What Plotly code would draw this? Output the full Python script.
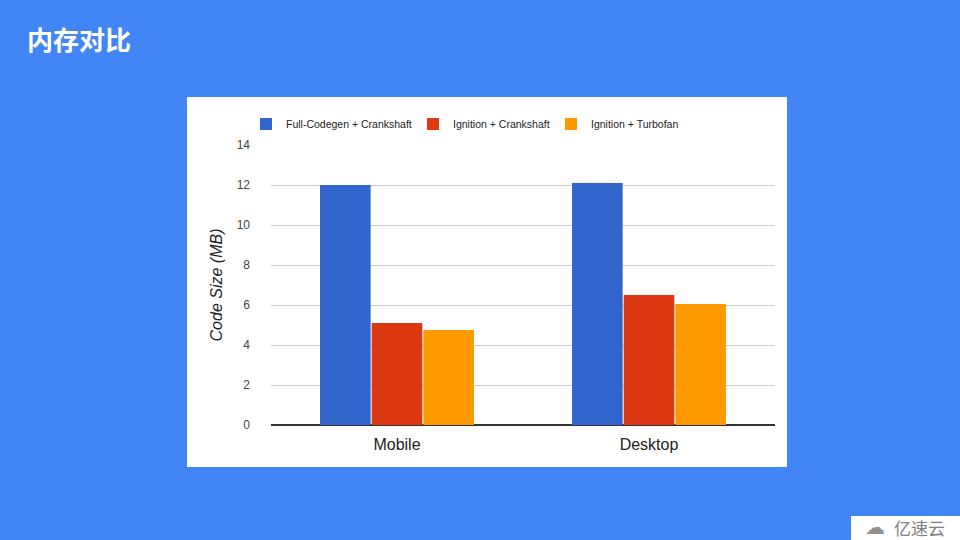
import plotly.graph_objects as go

categories = ["Mobile", "Desktop"]
series_names = ["Full-Codegen + Crankshaft", "Ignition + Crankshaft", "Ignition + Turbofan"]
full_codegen = [12.0, 12.1]
ignition_crankshaft = [5.1, 6.5]
ignition_turbofan = [4.75, 6.05]
series_values = [full_codegen, ignition_crankshaft, ignition_turbofan]
colors = ["#3366CC", "#DC3912", "#FF9900"]
y_ticks = [0, 2, 4, 6, 8, 10, 12, 14]

BG = "#4285F4"
FONT = "Arial, Liberation Sans, sans-serif"

# plot area in pixels
L, R, T, B = 271, 775, 145, 425
W, H = 960, 540
pw, ph = R - L, B - T

def px_x(x):
    return (x - L) / pw

def px_y(y):
    return (B - y) / ph

legend_ids = ["legend", "legend2", "legend3"]
legend_x_px = [246, 413, 551]

fig = go.Figure()
for name, vals, c, lid in zip(series_names, series_values, colors, legend_ids):
    fig.add_trace(go.Bar(name=name, x=categories, y=vals, legend=lid,
                         marker=dict(color=c, line=dict(width=0))))

legend_common = dict(
    orientation="h", yanchor="middle", xanchor="left",
    font=dict(size=10.5, color="#222222", family=FONT),
    bgcolor="rgba(0,0,0,0)", itemwidth=30,
)

layout_legends = {}
for lid, lx in zip(legend_ids, legend_x_px):
    layout_legends[lid] = dict(legend_common, x=px_x(lx), y=px_y(124))

fig.update_layout(
    width=W, height=H,
    margin=dict(l=L, r=W - R, t=T, b=H - B, pad=0),
    paper_bgcolor=BG,
    plot_bgcolor="white",
    barmode="group",
    bargap=0.385,
    bargroupgap=0.02,
    font=dict(family=FONT, color="#222222"),
    showlegend=True,
    xaxis=dict(
        tickfont=dict(size=16, color="#222222"),
        showgrid=False,
        showline=False,
        ticks="",
        ticklabelstandoff=8,
    ),
    yaxis=dict(
        range=[0, 14],
        tickvals=y_ticks,
        ticktext=[str(v) for v in y_ticks],
        tickfont=dict(size=12, color="#444444"),
        showgrid=True,
        gridcolor="#CCCCCC",
        gridwidth=1,
        zeroline=True,
        zerolinecolor="#333333",
        zerolinewidth=1.5,
        ticks="",
        ticklabelstandoff=20,
        title=dict(text="<i>Code Size (MB)</i>", font=dict(size=16, color="#222222"), standoff=10),
    ),
    shapes=[
        dict(type="rect", xref="paper", yref="paper",
             x0=px_x(187), x1=px_x(787), y0=px_y(467), y1=px_y(97),
             fillcolor="white", line=dict(width=0), layer="below"),
        dict(type="rect", xref="paper", yref="paper",
             x0=px_x(851), x1=px_x(962), y0=px_y(541), y1=px_y(516),
             fillcolor="white", line=dict(width=0), layer="above"),
    ],
    annotations=[
        dict(text="<b>内存对比</b>", xref="paper", yref="paper",
             x=px_x(25), y=px_y(38), xanchor="left", yanchor="middle",
             showarrow=False,
             font=dict(size=26, color="white", family="Noto Sans CJK SC")),
        dict(text="亿速云", xref="paper", yref="paper",
             x=px_x(919), y=px_y(527), xanchor="center", yanchor="middle",
             showarrow=False,
             font=dict(size=17, color="#808080", family="Noto Sans CJK SC")),
        dict(text="☁", xref="paper", yref="paper",
             x=px_x(875), y=px_y(527), xanchor="center", yanchor="middle",
             showarrow=False,
             font=dict(size=20, color="#909090", family="DejaVu Sans")),
    ],
    **layout_legends,
)

fig.write_html("out.html", config={"displayModeBar": False},
               post_script="document.body.style.margin='0';")
